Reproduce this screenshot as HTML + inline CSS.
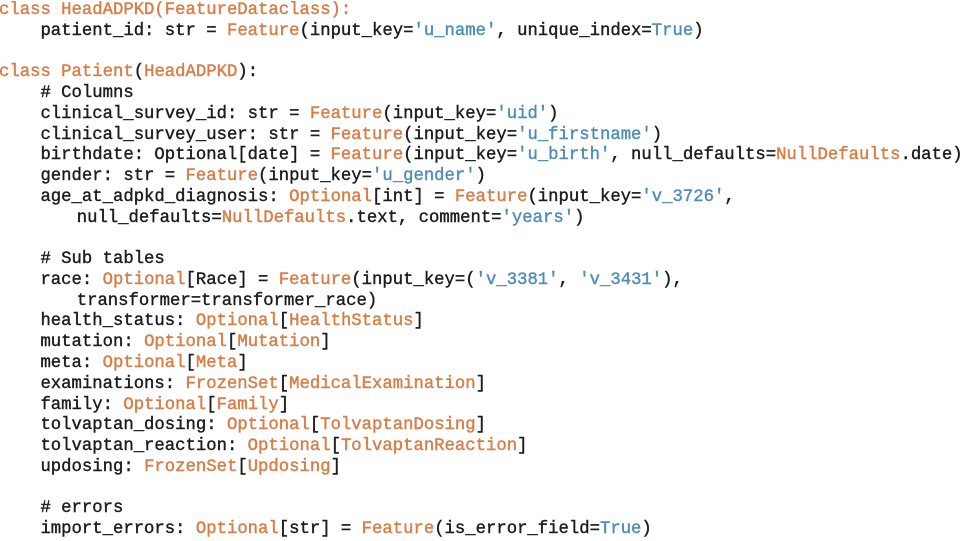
<!DOCTYPE html>
<html>
<head>
<meta charset="utf-8">
<style>
html,body{margin:0;padding:0;background:#fff;width:962px;height:537px;overflow:hidden}
pre{position:absolute;left:-1px;top:1px;margin:0;font-family:"Liberation Mono",monospace;font-size:17.28px;line-height:20.77px;color:#1c1c1c;-webkit-text-stroke:0.4px currentColor;white-space:pre;filter:blur(0.3px)}
b{font-weight:normal;color:#d77f49;-webkit-text-stroke:0.45px currentColor}
i{font-style:normal;color:#4f8db8;-webkit-text-stroke:0.4px currentColor}
s{text-decoration:none;display:inline-block;width:5.2px}
</style>
</head>
<body>
<pre><b>class HeadADPKD(FeatureDataclass):</b>
    patient_id: str = <b>Feature</b>(input_key=<i>'u_name'</i>, unique_index=<i>True</i>)

<b>class Patient</b>(<b>HeadADPKD</b>):
    # Columns
    clinical_survey_id: str = <b>Feature</b>(input_key=<i>'uid'</i>)
    clinical_survey_user: str = <b>Feature</b>(input_key=<i>'u_firstname'</i>)
    birthdate: Optional[date] = <b>Feature</b>(input_key=<i>'u_birth'</i>, null_defaults=<b>NullDefaults</b>.date)
    gender: str = <b>Feature</b>(input_key=<i>'u_gender'</i>)
    age_at_adpkd_diagnosis: <b>Optional</b>[int] = <b>Feature</b>(input_key=<i>'v_3726'</i>,
       <s></s>null_defaults=<b>NullDefaults</b>.text, comment=<i>'years'</i>)

    # Sub tables
    race: <b>Optional</b>[Race] = <b>Feature</b>(input_key=(<i>'v_3381'</i>, <i>'v_3431'</i>),
       <s></s>transformer=transformer_race)
    health_status: <b>Optional</b>[<b>HealthStatus</b>]
    mutation: <b>Optional</b>[<b>Mutation</b>]
    meta: <b>Optional</b>[<b>Meta</b>]
    examinations: <b>FrozenSet</b>[<b>MedicalExamination</b>]
    family: <b>Optional</b>[<b>Family</b>]
    tolvaptan_dosing: <b>Optional</b>[<b>TolvaptanDosing</b>]
    tolvaptan_reaction: <b>Optional</b>[<b>TolvaptanReaction</b>]
    updosing: <b>FrozenSet</b>[<b>Updosing</b>]

    # errors
    import_errors: <b>Optional</b>[str] = <b>Feature</b>(is_error_field=<i>True</i>)
</pre>
</body>
</html>
